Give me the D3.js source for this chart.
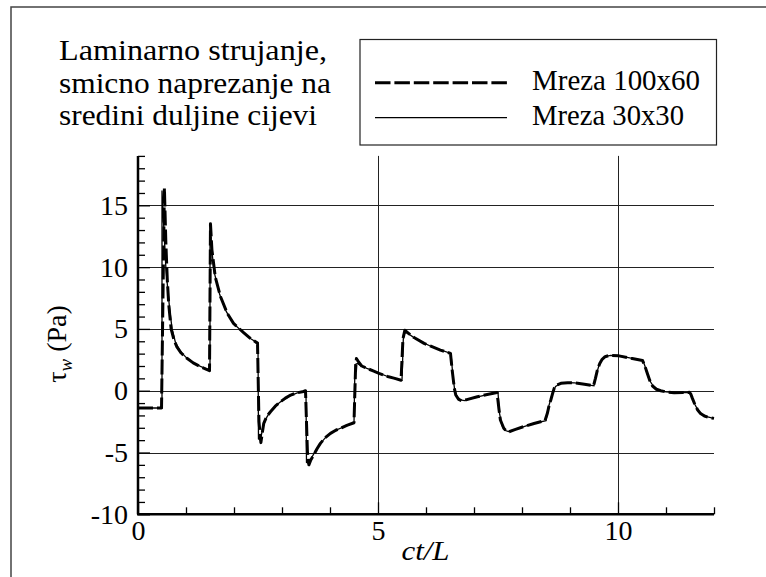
<!DOCTYPE html>
<html>
<head>
<meta charset="utf-8">
<script src="https://cdn.jsdelivr.net/npm/d3@7"></script>
<style>
  html, body { margin: 0; padding: 0; background: #fff; }
  svg { display: block; }
</style>
</head>
<body>
<svg id="chart" width="766" height="577"></svg>
<script>
// ---- data ----
const titleLines = ["Laminarno strujanje,", "smicno naprezanje na", "sredini duljine cijevi"];
const seriesNames = ["Mreza 100x60", "Mreza 30x30"];
const xTicksMajor = [0, 5, 10];
const xTicksMinor = [1, 2, 3, 4, 6, 7, 8, 9, 11, 12];
const yTicksMajor = [-10, -5, 0, 5, 10, 15];
const yTicksMinor = [-9, -8, -7, -6, -4, -3, -2, -1, 1, 2, 3, 4, 6, 7, 8, 9, 11, 12, 13, 14, 16, 17, 18, 19];
const xGrid = [5, 10];
const yGrid = [-5, 0, 5, 10, 15];

// Mreza 100x60 (dashed)
const fineX = [0, 0.49, 0.55, 0.58, 0.61, 0.64, 0.69, 0.75, 0.81, 0.9, 1.02, 1.15, 1.3, 1.49,
  1.51, 1.54, 1.61, 1.72, 1.86, 1.99, 2.2, 2.35, 2.49,
  2.52, 2.56, 2.59, 2.62, 2.68, 2.76, 2.86, 2.97, 3.07, 3.18, 3.3, 3.45, 3.49,
  3.53, 3.56, 3.6, 3.66, 3.73, 3.8, 3.9, 4.01, 4.12, 4.22, 4.35, 4.5,
  4.53, 4.55, 4.6, 4.66, 4.77, 4.9, 5.02, 5.2, 5.35, 5.48,
  5.52, 5.56, 5.6, 5.75, 5.96, 6.1, 6.3, 6.51,
  6.55, 6.59, 6.62, 6.68, 6.75, 6.85, 7.07, 7.25, 7.48,
  7.52, 7.55, 7.62, 7.68, 7.73, 7.85, 8.04, 8.25, 8.48,
  8.53, 8.57, 8.6, 8.64, 8.67, 8.72, 8.81, 8.95, 9.08, 9.3, 9.49,
  9.53, 9.57, 9.62, 9.67, 9.73, 9.81, 10.02, 10.27, 10.51,
  10.56, 10.61, 10.66, 10.72, 10.8, 10.89, 11.0, 11.17, 11.35, 11.49,
  11.52, 11.55, 11.6, 11.66, 11.72, 11.8, 11.9, 12.0];
const fineTau = [-1.4, -1.4, 16.4, 12.0, 9.0, 7.0, 5.0, 4.1, 3.55, 3.05, 2.62, 2.25, 1.94, 1.62,
  13.5, 11.4, 9.2, 7.6, 6.26, 5.45, 4.7, 4.2, 3.85,
  -2.5, -4.2, -3.4, -2.64, -2.1, -1.7, -1.25, -0.89, -0.6, -0.35, -0.18, -0.06, 0.0,
  -5.0, -6.0, -5.6, -5.2, -4.7, -4.26, -3.8, -3.45, -3.2, -3.04, -2.8, -2.59,
  1.5, 2.6, 2.3, 2.0, 1.81, 1.6, 1.41, 1.15, 1.0, 0.85,
  4.2, 4.9, 4.75, 4.3, 3.83, 3.6, 3.29, 3.02,
  1.5, 0.2, -0.35, -0.7, -0.82, -0.72, -0.49, -0.32, -0.15,
  -1.5, -2.37, -3.04, -3.3, -3.32, -3.15, -2.9, -2.65, -2.42,
  -1.8, -1.1, -0.75, -0.2, 0.19, 0.45, 0.6, 0.65, 0.64, 0.52, 0.4,
  1.0, 1.67, 2.2, 2.54, 2.75, 2.85, 2.82, 2.62, 2.45,
  2.0, 1.41, 0.85, 0.38, 0.12, 0.0, -0.1, -0.16, -0.15, -0.13,
  -0.3, -0.62, -1.1, -1.56, -1.85, -2.05, -2.17, -2.24];

// Mreza 30x30 (solid)
const coarseX = [0, 0.5, 0.5, 0.54, 0.58, 0.62, 0.66, 0.71, 0.78, 0.88, 1.0, 1.15, 1.3, 1.5,
  1.5, 1.54, 1.6, 1.7, 1.84, 2.0, 2.2, 2.35, 2.5,
  2.51, 2.55, 2.6, 2.66, 2.75, 2.85, 2.97, 3.1, 3.2, 3.32, 3.5,
  3.51, 3.56, 3.62, 3.7, 3.8, 3.9, 4.0, 4.12, 4.25, 4.38, 4.5,
  4.52, 4.57, 4.65, 4.77, 4.9, 5.02, 5.2, 5.35, 5.5,
  5.53, 5.58, 5.75, 5.96, 6.1, 6.3, 6.52,
  6.56, 6.6, 6.65, 6.72, 6.8, 6.95, 7.1, 7.3, 7.5,
  7.53, 7.58, 7.64, 7.72, 7.85, 8.04, 8.25, 8.5,
  8.54, 8.59, 8.64, 8.7, 8.8, 8.95, 9.1, 9.3, 9.5,
  9.54, 9.6, 9.66, 9.74, 9.85, 10.02, 10.27, 10.52,
  10.57, 10.62, 10.68, 10.75, 10.85, 11.0, 11.2, 11.5,
  11.54, 11.6, 11.67, 11.75, 11.85, 11.95, 12.0];
const coarseTau = [-1.4, -1.4, 16.2, 13, 10, 8.2, 6.6, 5.0, 3.9, 3.2, 2.7, 2.28, 1.97, 1.65,
  13.4, 11.2, 9.4, 7.8, 6.4, 5.4, 4.68, 4.2, 3.85,
  -3.9, -4.0, -3.0, -2.3, -1.72, -1.28, -0.9, -0.58, -0.36, -0.18, -0.02,
  -5.8, -5.9, -5.4, -4.85, -4.28, -3.82, -3.47, -3.2, -2.98, -2.78, -2.6,
  2.1, 2.2, 2.0, 1.8, 1.6, 1.42, 1.15, 0.98, 0.85,
  4.5, 4.75, 4.3, 3.85, 3.6, 3.3, 3.02,
  1.2, 0.0, -0.5, -0.75, -0.8, -0.62, -0.48, -0.3, -0.15,
  -1.8, -2.8, -3.2, -3.3, -3.15, -2.9, -2.64, -2.42,
  -1.5, -0.8, -0.1, 0.35, 0.58, 0.65, 0.64, 0.52, 0.4,
  1.2, 2.0, 2.5, 2.78, 2.86, 2.82, 2.63, 2.45,
  1.9, 1.3, 0.7, 0.28, 0.05, -0.1, -0.16, -0.13,
  -0.5, -1.1, -1.6, -1.92, -2.1, -2.2, -2.24];

// ---- drawing ----
const FONT = "'Liberation Serif'";
const svg = d3.select("#chart");

// outer frame (runs off the right and bottom edges)
svg.append("rect").attr("x", 11).attr("y", 7).attr("width", 820).attr("height", 640)
  .attr("fill", "none").attr("stroke", "#444").attr("stroke-width", 1.5);

const x = d3.scaleLinear().domain([0, 12]).range([138, 714]);
const y = d3.scaleLinear().domain([-10, 19]).range([514.3, 155.9]);

// grid
const g = svg.append("g");
g.selectAll("line.hg").data(yGrid).join("line")
  .attr("x1", x(0)).attr("x2", x(12))
  .attr("y1", d => Math.round(y(d)) + 0.5).attr("y2", d => Math.round(y(d)) + 0.5)
  .attr("stroke", "#222").attr("stroke-width", 1);
g.selectAll("line.vg").data(xGrid).join("line")
  .attr("y1", y(-10)).attr("y2", y(19))
  .attr("x1", d => Math.round(x(d)) + 0.5).attr("x2", d => Math.round(x(d)) + 0.5)
  .attr("stroke", "#222").attr("stroke-width", 1);

// axes
const fmt = d => String(d);
const xAxisMinor = d3.axisBottom(x).tickValues(xTicksMinor).tickSize(-7).tickFormat("");
const xAxisMajor = d3.axisBottom(x).tickValues(xTicksMajor).tickSize(-12).tickPadding(6).tickFormat(fmt);
const yAxisMinor = d3.axisLeft(y).tickValues(yTicksMinor).tickSize(-7).tickFormat("");
const yAxisMajor = d3.axisLeft(y).tickValues(yTicksMajor).tickSize(-12).tickPadding(10).tickFormat(fmt);

function styleAxis(sel) {
  sel.attr("font-family", FONT).attr("font-size", 28);
  sel.select(".domain").remove();
  sel.selectAll(".tick line").attr("stroke", "#000").attr("stroke-width", 1.3);
  sel.selectAll(".tick text").attr("font-family", FONT).attr("font-size", 28).attr("fill", "#000");
}
const bottomY = y(-10);
svg.append("g").attr("transform", `translate(0,${bottomY})`).call(xAxisMinor).call(styleAxis);
svg.append("g").attr("transform", `translate(0,${bottomY})`).call(xAxisMajor).call(styleAxis);
svg.append("g").attr("transform", `translate(${x(0)},0)`).call(yAxisMinor).call(styleAxis);
svg.append("g").attr("transform", `translate(${x(0)},0)`).call(yAxisMajor).call(styleAxis);

// axis lines
svg.append("line").attr("x1", x(0) - 1).attr("x2", x(12)).attr("y1", bottomY).attr("y2", bottomY)
  .attr("stroke", "#000").attr("stroke-width", 2.5);
svg.append("line").attr("x1", x(0)).attr("x2", x(0)).attr("y1", bottomY).attr("y2", y(19))
  .attr("stroke", "#000").attr("stroke-width", 2.5);

// series
const line = d3.line().x(d => x(d[0])).y(d => y(d[1]));
const fineData = fineX.map((v, i) => [v, fineTau[i]]);
const coarseData = coarseX.map((v, i) => [v, coarseTau[i]]);

svg.append("path").datum(coarseData).attr("d", line)
  .attr("fill", "none").attr("stroke", "#000").attr("stroke-width", 1.3);
svg.append("path").datum(fineData).attr("d", line)
  .attr("fill", "none").attr("stroke", "#000").attr("stroke-width", 3)
  .attr("stroke-dasharray", "15,4").attr("stroke-linejoin", "round");

// axis titles
svg.append("text").attr("x", 401.5).attr("y", 560)
  .attr("font-family", FONT).attr("font-size", 28).attr("font-style", "italic")
  .attr("textLength", 48).attr("lengthAdjust", "spacingAndGlyphs")
  .text("ct/L");

const yt = svg.append("text").attr("transform", "translate(66,344) rotate(-90)")
  .attr("text-anchor", "middle").attr("font-family", FONT).attr("font-size", 28);
yt.append("tspan").text("τ");
yt.append("tspan").attr("font-size", 19).attr("font-style", "italic").attr("dy", 6).text("w");
yt.append("tspan").attr("dy", -6).text(" (Pa)");

// title
const titleBase = [60, 93, 125];
const titleLen = [268, 272, 258];
svg.selectAll("text.title").data(titleLines).join("text")
  .attr("class", "title")
  .attr("x", 59).attr("y", (d, i) => titleBase[i])
  .attr("font-family", FONT).attr("font-size", 30)
  .attr("textLength", (d, i) => titleLen[i]).attr("lengthAdjust", "spacingAndGlyphs")
  .text(d => d);

// legend
svg.append("rect").attr("x", 360).attr("y", 39.5).attr("width", 356.5).attr("height", 105.5)
  .attr("fill", "#fff").attr("stroke", "#222").attr("stroke-width", 1.2);
svg.append("line").attr("x1", 375).attr("x2", 507).attr("y1", 82.7).attr("y2", 82.7)
  .attr("stroke", "#000").attr("stroke-width", 3).attr("stroke-dasharray", "15.5,3.9");
svg.append("line").attr("x1", 375).attr("x2", 507).attr("y1", 117.7).attr("y2", 117.7)
  .attr("stroke", "#000").attr("stroke-width", 1.2);
const legBase = [90, 125];
const legLen = [168, 152];
svg.selectAll("text.leg").data(seriesNames).join("text")
  .attr("class", "leg")
  .attr("x", 532).attr("y", (d, i) => legBase[i])
  .attr("font-family", FONT).attr("font-size", 29)
  .attr("textLength", (d, i) => legLen[i]).attr("lengthAdjust", "spacingAndGlyphs")
  .text(d => d);
</script>
</body>
</html>
